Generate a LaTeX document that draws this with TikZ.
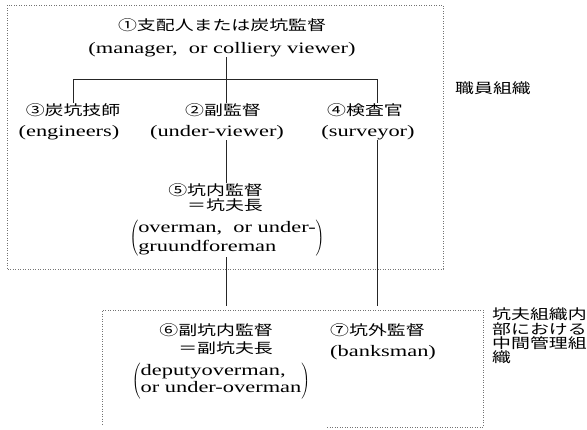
\documentclass[tikz,border=0pt]{standalone}
\usepackage{fontspec}
\setmainfont{Liberation Serif}[FakeStretch=1.4]
\newfontfamily\cjk{Noto Sans CJK JP}[FakeStretch=1.35]
\begin{document}
\begin{tikzpicture}[x=1pt,y=-1pt,
  lat/.style={font=\fontsize{16}{18}\selectfont, inner sep=0pt},
  jp/.style={font=\fontsize{14}{15}\selectfont\cjk, inner sep=0pt},
  conn/.style={line width=0.8pt, draw=black!85},
  frame/.style={draw=black!55, line width=0.6pt, dash pattern=on 0.7pt off 1.8pt}]
\useasboundingbox (0,0) rectangle (587,429);
\draw[frame] (7,5) rectangle (443,269);
\draw[frame] (327,427) -- (483,427) -- (483,310) -- (102,310) -- (102,424);

\node[jp] (n1a) at (222,25) {①支配人または炭坑監督};
\node[lat] (n1b) at (222,50) {(manager,\hspace{0.7em}or colliery viewer)};
\node[jp] (n3a) at (73,110) {③炭坑技師};
\node[lat] (n3b) at (69,133) {(engineers)};
\node[jp] (n2a) at (223,110) {②副監督};
\node[lat] (n2b) at (217,133) {(under-viewer)};
\node[jp] (n4a) at (365,110) {④検査官};
\node[lat] (n4b) at (368,133) {(surveyor)};
\node[jp,anchor=east] (n5a) at (263,190) {⑤坑内監督};
\node[jp,anchor=east] (n5b) at (263,205) {＝坑夫長};
\node[lat,font=\fontsize{16}{19}\selectfont] (n5c) at (227,238) {$\left(\begin{tabular}{@{}l@{}}overman,\hspace{0.7em}or under-\\ gruundforeman\end{tabular}\right)$};
\node[jp,anchor=east] (n6a) at (273,330) {⑥副坑内監督};
\node[jp,anchor=east] (n6b) at (273,348) {＝副坑夫長};
\node[lat,font=\fontsize{16}{17}\selectfont] (n6c) at (221,381) {$\left(\begin{tabular}{@{}l@{}}deputyoverman,\\ or under-overman\end{tabular}\right)$};
\node[jp,anchor=west] (n7a) at (330,330) {⑦坑外監督};
\node[lat,anchor=west] (n7b) at (330,353) {(banksman)};
\node[jp,anchor=west] (lab1) at (455,88) {職員組織};
\node[jp,anchor=west,align=left,font=\fontsize{14}{14.3}\selectfont\cjk] (lab2) at (492,336) {坑夫組織内\\部における\\中間管理組\\織};

\coordinate (j) at (226,79);
\coordinate (jl) at (73,79);
\coordinate (jr) at (377,79);
\coordinate (e7) at (377,306);
\draw[conn] (j |- n1b.south) -- (j);
\draw[conn] (jl |- n3a.north) -- (jl) -- (jr) -- (jr |- n4a.north);
\draw[conn] (j) -- (j |- n2a.north);
\draw[conn] (j |- n2b.south) -- (j |- n5a.north);
\draw[conn] (j |- n5c.south) -- (j |- e7);
\draw[conn] (jr |- n4b.south) -- (e7);
\end{tikzpicture}
\end{document}
